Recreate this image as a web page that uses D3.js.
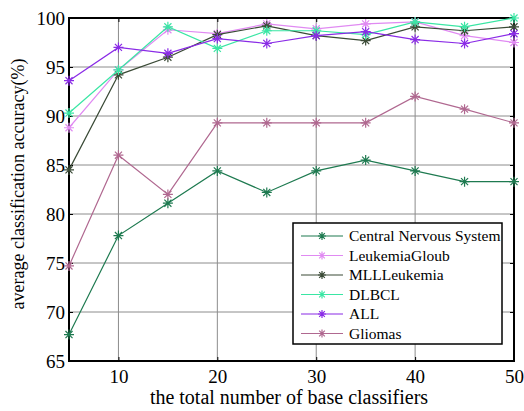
<!DOCTYPE html>
<html lang="en">
  <head>
    <meta charset="UTF-8" />
    <title>average classification accuracy</title>
    <script src="https://d3js.org/d3.v7.min.js"></script>
    <style>
      body { margin: 0; background: #fff; }
      text { font-family: "Liberation Serif", "Times New Roman", serif; fill: #000; }
      .grid line { stroke: #8c8c8c; stroke-width: 1; }
      .series { fill: none; stroke-width: 1.2; }
    </style>
  </head>
  <body>
    <svg width="524" height="411"></svg>
    <script>
      const xs = [5, 10, 15, 20, 25, 30, 35, 40, 45, 50];
      const names = ["Central Nervous System", "LeukemiaGloub", "MLLLeukemia", "DLBCL", "ALL", "Gliomas"];
      const colors = ["#1e7a50", "#e08af2", "#3a4a36", "#3ae6a4", "#8a2be6", "#b06890"];
      const cns = [67.7, 77.8, 81.1, 84.4, 82.2, 84.4, 85.5, 84.4, 83.3, 83.3];
      const leukemia = [88.8, 94.7, 98.8, 98.4, 99.4, 98.9, 99.4, 99.6, 98.2, 97.5];
      const mll = [84.5, 94.2, 96.0, 98.3, 99.2, 98.2, 97.7, 99.1, 98.7, 99.1];
      const dlbcl = [90.3, 94.7, 99.1, 96.9, 98.7, 98.7, 98.3, 99.6, 99.1, 100];
      const all = [93.6, 97.0, 96.4, 97.9, 97.4, 98.2, 98.6, 97.8, 97.4, 98.4];
      const gliomas = [74.7, 86.0, 82.0, 89.3, 89.3, 89.3, 89.3, 92.0, 90.7, 89.3];
      const series = [cns, leukemia, mll, dlbcl, all, gliomas];
      const xTicks = [10, 20, 30, 40, 50];
      const yTicks = [65, 70, 75, 80, 85, 90, 95, 100];

      const margin = { top: 18, right: 10, bottom: 50, left: 69 };
      const width = 524, height = 411;
      const svg = d3.select("svg");

      const x = d3.scaleLinear().domain([5, 50]).range([margin.left, width - margin.right]);
      const y = d3.scaleLinear().domain([65, 100]).range([height - margin.bottom, margin.top]);

      // grid
      const grid = svg.append("g").attr("class", "grid");
      grid.selectAll(".gx").data(xTicks.slice(0, -1)).enter().append("line")
        .attr("x1", d => x(d)).attr("x2", d => x(d))
        .attr("y1", y(65)).attr("y2", y(100));
      grid.selectAll(".gy").data(yTicks.slice(1, -1)).enter().append("line")
        .attr("x1", x(5)).attr("x2", x(50))
        .attr("y1", d => y(d)).attr("y2", d => y(d));

      // axes
      svg.append("g")
        .attr("transform", `translate(0,${y(65)})`)
        .call(d3.axisBottom(x).tickValues(xTicks).tickSize(-4).tickPadding(9))
        .call(g => g.select(".domain").remove())
        .call(g => g.selectAll("text").attr("font-size", 19).attr("dy", "0.7em"));
      svg.append("g")
        .attr("transform", `translate(${x(5)},0)`)
        .call(d3.axisLeft(y).tickValues(yTicks).tickSize(-4).tickPadding(4))
        .call(g => g.select(".domain").remove())
        .call(g => g.selectAll("text").attr("font-size", 19));
      svg.append("g")
        .attr("transform", `translate(0,${y(100)})`)
        .call(d3.axisTop(x).tickValues(xTicks).tickSize(-4).tickFormat(""))
        .call(g => g.select(".domain").remove());
      svg.append("g")
        .attr("transform", `translate(${x(50)},0)`)
        .call(d3.axisRight(y).tickValues(yTicks).tickSize(-4).tickFormat(""))
        .call(g => g.select(".domain").remove());

      svg.append("rect")
        .attr("x", x(5)).attr("y", y(100))
        .attr("width", x(50) - x(5)).attr("height", y(65) - y(100))
        .attr("fill", "none").attr("stroke", "#000").attr("stroke-width", 2);

      // asterisk marker
      function star(cx, cy, r) {
        const k = r * 0.7071;
        return `M${cx - r},${cy}L${cx + r},${cy}M${cx},${cy - r}L${cx},${cy + r}` +
          `M${cx - k},${cy - k}L${cx + k},${cy + k}M${cx - k},${cy + k}L${cx + k},${cy - k}`;
      }

      const line = d3.line().x((d, i) => x(xs[i])).y(d => y(d));
      series.forEach((vals, s) => {
        const g = svg.append("g");
        g.append("path").datum(vals).attr("class", "series")
          .attr("stroke", colors[s]).attr("d", line);
        g.selectAll("path.m").data(vals).enter().append("path")
          .attr("class", "m")
          .attr("d", (d, i) => star(x(xs[i]), y(d), 5))
          .attr("stroke", colors[s]).attr("stroke-width", 1.2).attr("fill", "none");
      });

      // legend
      const lx = 293, ly = 223, lw = 209, lh = 121;
      const legend = svg.append("g");
      legend.append("rect").attr("x", lx).attr("y", ly).attr("width", lw).attr("height", lh)
        .attr("fill", "#fff").attr("stroke", "#000").attr("stroke-width", 1.5);
      names.forEach((n, i) => {
        const yy = ly + 13 + i * 19.5;
        legend.append("line").attr("x1", lx + 8).attr("x2", lx + 50)
          .attr("y1", yy).attr("y2", yy).attr("stroke", colors[i]).attr("stroke-width", 1.2);
        legend.append("path").attr("d", star(lx + 29, yy, 4))
          .attr("stroke", colors[i]).attr("stroke-width", 1.2);
        legend.append("text").attr("x", lx + 56).attr("y", yy).attr("dy", "0.35em")
          .attr("font-size", 15.5).text(n);
      });

      // axis labels
      svg.append("text").attr("x", 289).attr("y", 404)
        .attr("text-anchor", "middle").attr("font-size", 20)
        .text("the total number of base classifiers");
      svg.append("text")
        .attr("transform", "translate(24,184) rotate(-90)")
        .attr("text-anchor", "middle").attr("font-size", 18)
        .text("average classification accuracy(%)");
    </script>
  </body>
</html>
